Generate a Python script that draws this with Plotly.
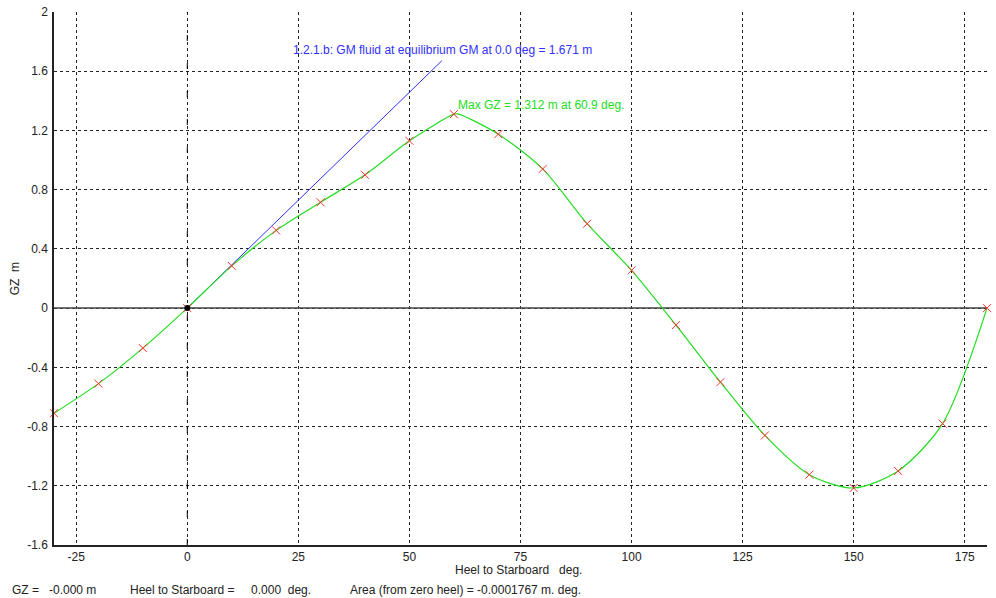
import plotly.graph_objects as go

# Data
heel = [-30, -20, -10, 0, 10, 20, 30, 40, 50, 60, 70, 80, 90, 100, 110, 120, 130, 140, 150, 160, 170, 180]
gz = [-0.71, -0.51, -0.27, 0.0, 0.285, 0.525, 0.715, 0.90, 1.13, 1.31, 1.175, 0.94, 0.57, 0.255, -0.115, -0.50, -0.86, -1.125, -1.215, -1.10, -0.78, 0.0]
max_heel = 60.9
max_gz = 1.312
gm_heel = [0.0, 57.3]
gm_gz = [0.0, 1.671]
x_ticks = [-25, 0, 25, 50, 75, 100, 125, 150, 175]
y_ticks = [-1.6, -1.2, -0.8, -0.4, 0, 0.4, 0.8, 1.2, 1.6, 2]

# Merge max point into the curve for the smooth line
curve = sorted(zip(heel + [max_heel], gz + [max_gz]))
cx = [p[0] for p in curve]
cy = [p[1] for p in curve]

FONT = "Liberation Sans, Arial, sans-serif"
NB = "\u00a0"

fig = go.Figure()

# vertical long-dashed line at 0 heel
fig.add_trace(go.Scatter(x=[0, 0], y=[-1.6, 2], mode="lines",
                         line=dict(color="black", width=1, dash="6px,22px"),
                         hoverinfo="skip", showlegend=False))
# zero line
fig.add_trace(go.Scatter(x=[-30, 180], y=[0, 0], mode="lines",
                         line=dict(color="#444444", width=1.5),
                         hoverinfo="skip", showlegend=False))
# GM line
fig.add_trace(go.Scatter(x=gm_heel, y=gm_gz, mode="lines",
                         line=dict(color="#3030ff", width=1),
                         showlegend=False))
# GZ curve
fig.add_trace(go.Scatter(x=cx, y=cy, mode="lines",
                         line=dict(color="#22dd22", width=1.2, shape="spline", smoothing=0.8),
                         showlegend=False))
# markers
fig.add_trace(go.Scatter(x=heel, y=gz, mode="markers",
                         marker=dict(symbol="x-thin", size=8,
                                     line=dict(color="#ff3030", width=1)),
                         cliponaxis=False, showlegend=False))
# origin dot
fig.add_trace(go.Scatter(x=[0], y=[0], mode="markers",
                         marker=dict(color="black", size=6),
                         showlegend=False))

fig.update_xaxes(range=[-30, 180], tickvals=x_ticks, ticktext=[str(v) for v in x_ticks],
                 showgrid=True, gridcolor="#222222", griddash="3px,3px", gridwidth=1,
                 zeroline=False, showline=True, linecolor="#222222", linewidth=1.5,
                 ticks="", automargin=False,
                 tickfont=dict(family=FONT, size=12, color="#222222"))
fig.update_yaxes(range=[-1.6, 2], tickvals=y_ticks,
                 ticktext=["-1.6", "-1.2", "-0.8", "-0.4", "0", "0.4", "0.8", "1.2", "1.6", "2"],
                 showgrid=True, gridcolor="#222222", griddash="3px,3px", gridwidth=1,
                 zeroline=False, showline=True, linecolor="#222222", linewidth=1.5,
                 ticks="", ticklabelstandoff=2, automargin=False,
                 tickfont=dict(family=FONT, size=12, color="#222222"))

anns = [
    dict(x=0, y=1.671, xref="x", yref="y", text="1.2.1.b: GM fluid at equilibrium GM at 0.0 deg = 1.671 m",
         xanchor="left", yanchor="middle", xshift=104, yshift=11, showarrow=False,
         font=dict(family=FONT, size=12, color="#3030ff")),
    dict(x=max_heel, y=max_gz, xref="x", yref="y", text="Max GZ = 1.312 m at 60.9 deg.",
         xanchor="left", yanchor="bottom", xshift=-2, yshift=0, showarrow=False,
         font=dict(family=FONT, size=12, color="#22dd22")),
    dict(x=-0.042, y=0.5, xref="paper", yref="paper", text="GZ" + NB * 2 + "m", textangle=-90,
         xanchor="center", yanchor="middle", showarrow=False,
         font=dict(family=FONT, size=12, color="#222222")),
    dict(x=0.498, y=-0.03, xref="paper", yref="paper", text="Heel to Starboard" + NB * 3 + "deg.",
         xanchor="center", yanchor="top", showarrow=False,
         font=dict(family=FONT, size=12, color="#222222")),
    dict(x=-0.047, y=-0.068, xref="paper", yref="paper", text="GZ =" + NB * 3 + "-0.000 m",
         xanchor="left", yanchor="top", showarrow=False,
         font=dict(family=FONT, size=12, color="#222222")),
    dict(x=0.079, y=-0.068, xref="paper", yref="paper",
         text="Heel to Starboard =" + NB * 5 + "0.000" + NB * 2 + "deg.",
         xanchor="left", yanchor="top", showarrow=False,
         font=dict(family=FONT, size=12, color="#222222")),
    dict(x=0.315, y=-0.068, xref="paper", yref="paper", text="Area (from zero heel) = -0.0001767 m. deg.",
         xanchor="left", yanchor="top", showarrow=False,
         font=dict(family=FONT, size=12, color="#222222")),
]

fig.update_layout(width=996, height=598, margin=dict(l=54, r=9, t=12, b=53, autoexpand=False),
                  paper_bgcolor="white", plot_bgcolor="white",
                  annotations=anns, showlegend=False,
                  font=dict(family=FONT, size=12, color="#222222"))

fig.write_html("out.html", config={"displayModeBar": False},
               post_script="document.body.style.margin='0px';")
